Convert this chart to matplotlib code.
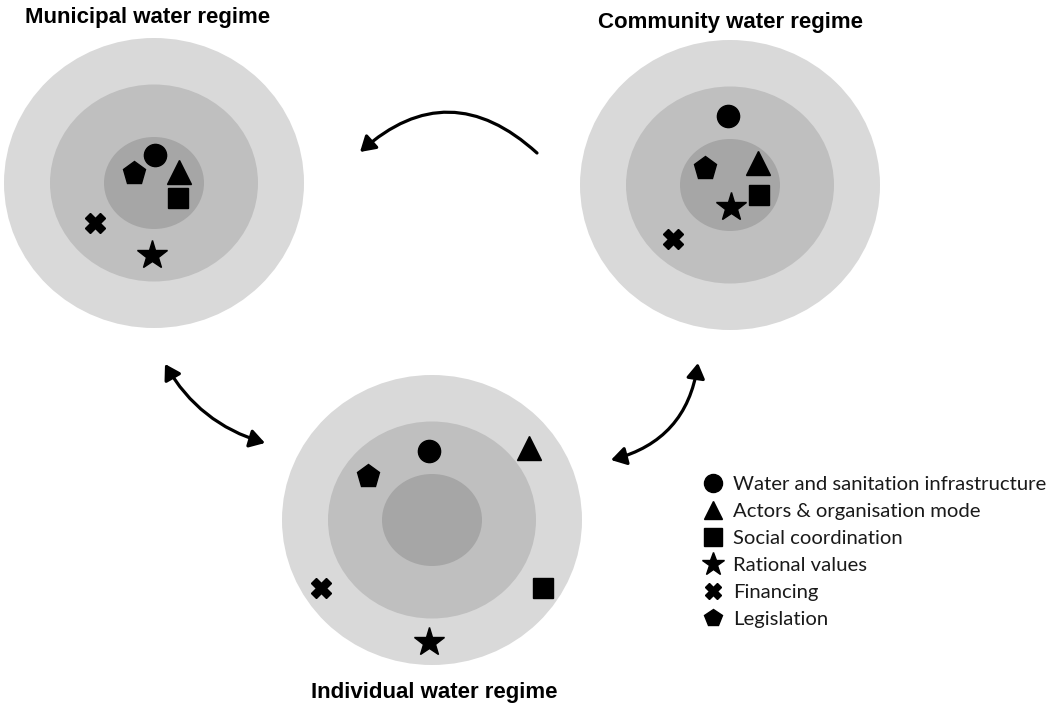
import matplotlib.pyplot as plt
from matplotlib.patches import Ellipse, FancyArrowPatch

# Regime names, title anchors and ring centres (pixel space, y downwards)
regimes = ["Municipal water regime", "Community water regime", "Individual water regime"]
centres = [(154, 183), (730, 185), (432, 520)]
title_pos = [(148, 23), (730, 28), (434, 698)]

# Rings: outer, middle, inner (width, height) and grey levels
ring_sizes = [(300, 290), (208, 197), (100, 92)]
ring_colors = ["#d9d9d9", "#bfbfbf", "#a6a6a6"]

# Dimensions and their markers
dimensions = ["Water and sanitation infrastructure", "Actors & organisation mode",
              "Social coordination", "Rational values", "Financing", "Legislation"]
markers = ["o", "^", "s", "*", "X", "p"]
marker_sizes = [16, 17, 15, 22, 15, 17]

# Marker positions per regime, same order as dimensions
municipal_x = [155, 179, 178, 152, 95, 134]
municipal_y = [155, 172, 198, 255, 223, 173]
community_x = [728, 758, 759, 731, 673, 705]
community_y = [116, 163, 195, 207, 239, 168]
individual_x = [429, 529, 543, 429, 321, 368]
individual_y = [451, 448, 588, 642, 588, 476]
positions = [(municipal_x, municipal_y), (community_x, community_y),
             (individual_x, individual_y)]

# Arrows: start, end, curvature, double headed?
arrows = [((537, 153), (360, 152), 0.45, False),
          ((165, 364), (265, 443), 0.2, True),
          ((698, 363), (611, 460), -0.33, True)]

fig = plt.figure(figsize=(10.53, 7.09), dpi=100)
ax = fig.add_axes([0, 0, 1, 1])
ax.set_xlim(0, 1053)
ax.set_ylim(709, 0)
ax.axis("off")

for name, (cx, cy), (tx, ty), (xs, ys) in zip(regimes, centres, title_pos, positions):
    for (w, h), c in zip(ring_sizes, ring_colors):
        ax.add_patch(Ellipse((cx, cy), w, h, facecolor=c, edgecolor="none"))
    for x, y, m, ms in zip(xs, ys, markers, marker_sizes):
        ax.plot(x, y, marker=m, markersize=ms, color="black", linestyle="none")
    ax.text(tx, ty, name, ha="center", va="baseline", fontsize=16,
            fontweight="bold", family="Liberation Sans")

for start, end, rad, both in arrows:
    style = "<|-|>" if both else "-|>"
    ax.add_patch(FancyArrowPatch(start, end, connectionstyle=f"arc3,rad={rad}",
                                 arrowstyle=f"{style},head_length=9,head_width=5.5",
                                 linewidth=2.3, color="black", shrinkA=0, shrinkB=0))

# Legend drawn by hand
leg_x, text_x, first_base, step = 713, 733, 490, 27
for i, (label, m) in enumerate(zip(dimensions, markers)):
    base = first_base + i * step
    ms = 17 if m == "*" else (11 if m == "X" else 13)
    ax.plot(leg_x, base - 7, marker=m, markersize=ms, color="black", linestyle="none")
    ax.text(text_x, base, label, ha="left", va="baseline", fontsize=14.6,
            family="Lato", color="#1a1a1a")

fig.savefig("out.png", dpi=100)
